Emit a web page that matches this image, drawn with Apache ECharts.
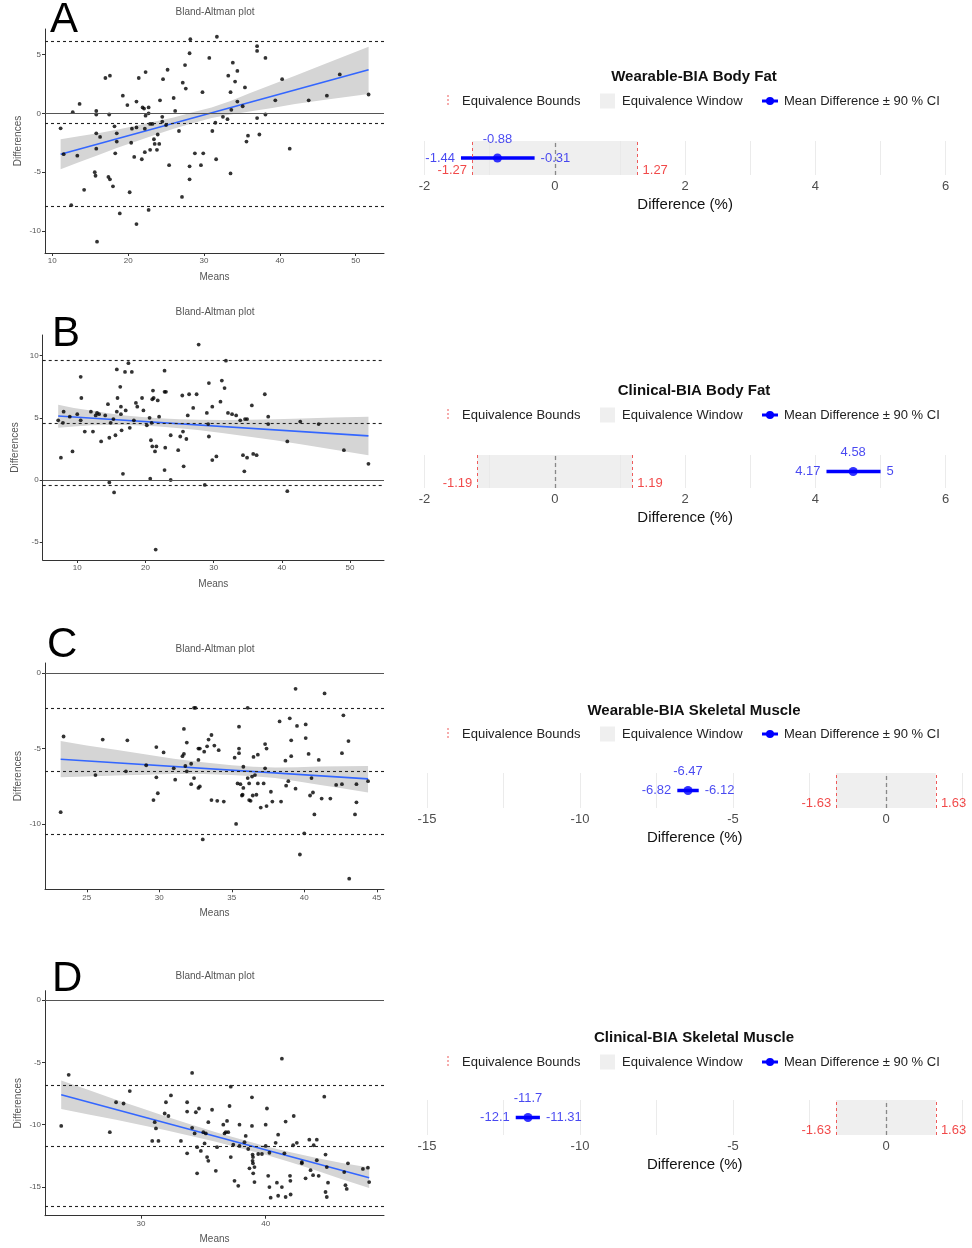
<!DOCTYPE html>
<html><head><meta charset="utf-8">
<script src="https://cdn.jsdelivr.net/npm/echarts@6/dist/echarts.min.js"></script>
<style>html,body{margin:0;padding:0;background:#fff}#c{width:972px;height:1248px}</style>
</head><body><div id="c"></div>
<script>
// ---------- Bland-Altman data (means, differences) ----------
const pointsA = [[11.1,-1.27],[11.5,-3.47],[12.7,0.1],[13.3,-3.6],[13.6,0.8],[12.5,-7.8],[14.2,-6.5],[15.8,0.2],[15.8,-0.1],[15.8,-1.7],[16.3,-2.0],[15.8,-3.0],[15.6,-5.0],[15.7,-5.3],[15.9,-10.9],[17.0,3.0],[17.6,3.2],[17.5,-0.1],[18.2,-1.1],[18.5,-1.7],[18.5,-2.4],[18.3,-3.4],[17.4,-5.4],[17.6,-5.6],[18.0,-6.2],[19.3,1.5],[19.9,0.7],[20.5,-1.3],[20.4,-2.5],[20.8,-3.7],[20.2,-6.7],[18.9,-8.5],[21.1,-9.4],[21.4,3.0],[21.1,1.0],[21.1,-1.2],[21.8,-3.9],[21.9,0.5],[22.3,3.5],[22.1,0.4],[22.7,0.5],[22.3,-0.2],[22.7,0.0],[22.2,-1.3],[22.9,-0.9],[22.2,-3.3],[22.9,-3.1],[22.7,-8.2],[23.2,-0.9],[23.4,-2.2],[23.5,-2.6],[23.8,-3.1],[23.9,-1.8],[24.1,-2.6],[24.2,1.1],[24.5,-0.3],[24.6,2.9],[24.5,-0.7],[25.0,-1.0],[25.2,3.7],[25.4,-4.4],[26.0,1.3],[26.2,0.2],[26.7,-1.5],[27.1,-7.1],[27.2,2.6],[27.5,4.1],[27.6,2.1],[28.1,-4.5],[28.1,-5.6],[28.1,5.1],[28.2,6.3],[28.8,-3.4],[29.6,-4.4],[29.9,-3.4],[29.8,1.8],[30.7,4.7],[31.1,-1.5],[31.5,-0.8],[31.6,-3.9],[31.7,6.5],[32.5,-0.3],[33.1,-0.5],[33.2,3.2],[33.5,-5.1],[33.5,1.8],[33.6,0.3],[33.8,4.3],[34.1,2.7],[34.4,3.6],[34.4,1.0],[35.1,0.6],[35.4,2.2],[35.6,-2.4],[35.8,-1.9],[37.0,5.7],[37.0,5.3],[37.0,-0.4],[37.3,-1.8],[38.1,4.7],[38.1,-0.1],[39.4,1.1],[40.3,2.9],[41.3,-3.0],[43.8,1.1],[46.2,1.5],[47.9,3.3],[51.7,1.6]];
const pointsB = [[7.2,4.8],[7.6,1.8],[8.0,5.5],[7.9,4.6],[8.9,5.1],[9.3,2.3],[10.0,5.3],[10.5,8.3],[10.6,6.6],[10.5,4.8],[11.1,3.9],[12.0,5.5],[12.3,3.9],[12.7,5.2],[12.9,5.4],[13.2,5.3],[13.5,3.1],[14.1,5.2],[14.5,6.1],[14.7,3.4],[14.9,4.6],[14.7,-0.2],[15.3,4.9],[15.4,-1.0],[15.6,3.6],[15.8,8.9],[15.9,6.6],[15.8,5.5],[16.3,7.5],[16.4,5.9],[16.4,5.3],[16.5,4.0],[16.7,0.5],[17.0,8.7],[17.1,5.6],[17.5,9.4],[17.7,4.2],[18.0,8.7],[18.3,4.8],[18.6,6.2],[18.8,5.9],[19.5,6.6],[19.7,5.6],[20.2,4.4],[20.6,5.0],[20.7,0.1],[20.8,3.2],[20.9,4.6],[21.0,2.7],[21.0,6.5],[21.1,7.2],[21.2,6.6],[21.4,2.3],[21.6,2.7],[21.5,-5.6],[21.8,6.4],[22.0,5.1],[22.8,8.8],[22.8,7.1],[23.0,7.1],[22.9,2.6],[22.8,0.8],[23.7,0.0],[23.7,3.6],[24.8,2.4],[25.1,3.5],[25.4,6.8],[25.5,3.9],[25.6,1.1],[26.0,3.3],[26.2,5.2],[26.4,6.9],[27.0,5.8],[27.5,6.9],[27.8,10.9],[28.7,-0.4],[29.0,5.4],[29.2,4.5],[29.3,3.5],[29.3,7.8],[29.8,5.9],[29.8,1.6],[30.4,1.9],[31.0,6.3],[31.2,8.0],[31.6,7.4],[31.8,9.6],[32.1,5.4],[32.7,5.3],[33.3,5.2],[33.9,4.8],[34.3,2.0],[34.5,0.7],[34.6,4.9],[34.9,4.9],[34.9,1.8],[35.6,6.0],[35.8,2.1],[36.3,2.0],[37.5,6.9],[38.0,5.1],[38.0,4.5],[40.8,3.1],[40.8,-0.9],[42.7,4.7],[45.4,4.5],[49.1,2.4],[52.7,1.3]];
const pointsC = [[23.2,-9.2],[23.4,-4.2],[25.6,-6.75],[26.1,-4.4],[27.7,-6.5],[27.8,-4.45],[29.1,-6.1],[29.6,-8.4],[29.8,-4.9],[29.8,-6.9],[29.9,-7.95],[30.3,-5.25],[31.0,-6.3],[31.1,-7.05],[31.6,-5.5],[31.7,-3.7],[31.7,-5.35],[31.8,-6.15],[31.9,-6.5],[31.9,-4.6],[32.2,-6.0],[32.2,-7.35],[32.4,-6.95],[32.4,-2.3],[32.5,-2.3],[32.7,-5.0],[32.7,-5.75],[32.7,-7.6],[32.8,-5.0],[32.8,-7.5],[33.0,-11.0],[33.1,-5.2],[33.3,-4.85],[33.4,-4.4],[33.6,-4.1],[33.6,-8.4],[33.8,-4.8],[34.0,-8.45],[34.1,-5.1],[34.45,-8.5],[35.2,-5.6],[35.3,-9.98],[35.4,-7.3],[35.5,-3.55],[35.5,-5.3],[35.5,-5.0],[35.6,-7.35],[35.7,-8.1],[35.8,-7.6],[35.8,-6.2],[35.75,-8.05],[36.1,-6.95],[36.1,-2.3],[36.2,-7.3],[36.2,-8.4],[36.3,-8.45],[36.4,-6.85],[36.45,-8.1],[36.5,-5.55],[36.6,-6.75],[36.7,-8.05],[36.8,-7.3],[36.8,-5.4],[37.0,-8.9],[37.2,-7.3],[37.3,-4.7],[37.3,-6.3],[37.4,-8.8],[37.4,-5.0],[37.7,-7.85],[37.8,-8.5],[38.3,-3.2],[38.4,-8.5],[38.7,-5.8],[38.75,-7.45],[38.9,-7.15],[39.0,-3.0],[39.1,-5.5],[39.1,-4.45],[39.4,-1.05],[39.4,-7.65],[39.5,-3.5],[39.7,-12.0],[40.0,-10.6],[40.1,-4.3],[40.1,-3.4],[40.3,-5.35],[40.4,-8.1],[40.5,-6.95],[40.6,-7.9],[40.7,-9.35],[41.0,-5.75],[41.2,-8.3],[41.4,-1.35],[41.8,-8.3],[42.2,-7.4],[42.6,-7.35],[42.6,-5.3],[42.7,-2.8],[43.05,-4.5],[43.1,-13.6],[43.5,-9.35],[43.6,-8.55],[43.6,-7.35],[44.4,-7.15]];
const pointsD = [[23.6,-10.1],[24.2,-6.0],[27.5,-10.6],[28.0,-8.2],[28.6,-8.3],[29.1,-7.3],[30.9,-11.3],[31.1,-9.8],[31.2,-10.3],[31.4,-11.3],[31.9,-9.1],[32.0,-8.2],[32.2,-9.3],[32.4,-7.65],[33.2,-11.3],[33.7,-8.2],[33.7,-8.95],[33.7,-12.3],[34.1,-5.85],[34.1,-10.25],[34.3,-10.7],[34.4,-9.0],[34.5,-11.8],[34.5,-13.9],[34.65,-8.7],[34.8,-12.1],[35.0,-10.6],[35.1,-11.5],[35.2,-10.7],[35.3,-12.6],[35.4,-12.9],[35.4,-9.8],[35.7,-8.8],[36.0,-13.7],[36.1,-11.8],[36.6,-10.0],[36.7,-10.7],[36.8,-10.6],[36.9,-9.7],[37.0,-10.6],[37.1,-8.5],[37.2,-6.95],[37.2,-12.6],[37.4,-11.6],[37.5,-14.5],[37.8,-14.9],[37.9,-11.7],[37.9,-10.0],[38.3,-11.4],[38.4,-10.9],[38.6,-11.95],[38.7,-13.5],[38.9,-10.1],[38.9,-7.8],[38.95,-12.4],[38.98,-12.6],[38.95,-12.9],[38.98,-13.1],[39.1,-13.4],[39.0,-13.9],[39.1,-14.6],[39.4,-12.35],[39.7,-12.35],[40.0,-10.0],[40.0,-11.7],[40.1,-8.7],[40.2,-14.1],[40.3,-12.25],[40.3,-15.0],[40.4,-15.85],[40.8,-11.45],[40.9,-14.65],[41.0,-10.8],[41.0,-15.7],[41.3,-4.7],[41.3,-15.0],[41.5,-12.3],[41.6,-9.75],[41.6,-15.8],[41.95,-14.1],[41.98,-14.5],[42.0,-15.6],[42.2,-11.65],[42.25,-9.3],[42.5,-11.45],[42.9,-13.0],[42.9,-13.1],[43.2,-14.3],[43.5,-11.2],[43.6,-13.65],[43.8,-14.05],[43.85,-11.65],[44.1,-11.2],[44.1,-12.85],[44.25,-14.1],[44.7,-7.75],[44.8,-12.4],[44.9,-13.4],[44.8,-15.4],[44.9,-15.8],[45.0,-14.65],[46.4,-14.85],[46.5,-15.15],[46.6,-13.1],[46.3,-13.8],[47.8,-13.55],[48.2,-13.45],[48.3,-14.6]];

// upper limit of agreement, bias, lower limit of agreement
const limitsA = [6.13, -0.88, -7.89];
const limitsB = [9.6, 4.58, -0.45];
const limitsC = [-2.3, -6.47, -10.65];
const limitsD = [-6.85, -11.7, -16.52];

// regression line end points
const regA = [[11.1,-3.47],[51.7,3.7]];
const regB = [[7.2,5.15],[52.7,3.55]];
const regC = [[23.2,-5.7],[44.4,-7.0]];
const regD = [[23.6,-7.6],[48.3,-14.25]];

// confidence band [x, lower, upper]
const bandA = [[11.1,-4.75,-2.2],[13.5,-4.15,-1.95],[16,-3.55,-1.7],[18.5,-2.95,-1.4],[21,-2.4,-1.05],[23.5,-1.85,-0.7],[26,-1.3,-0.35],[28.5,-0.85,0.1],[31,-0.4,0.5],[33.5,-0.1,1.05],[36,0.15,1.7],[39,0.45,2.45],[42,0.8,3.2],[46,1.15,4.2],[51.7,1.65,5.65]];
const bandB = [[7.2,4.2,6.05],[9.5,4.3,5.8],[12,4.4,5.6],[14.5,4.43,5.38],[17,4.42,5.2],[19.5,4.38,5.06],[22,4.3,4.96],[25,4.17,4.88],[28,4.0,4.84],[31.5,3.77,4.82],[35,3.5,4.84],[39,3.2,4.88],[43,2.85,4.95],[47.5,2.45,5.02],[52.7,2.0,5.1]];
const bandC = [[23.2,-6.9,-4.5],[25,-6.84,-4.8],[27,-6.78,-5.08],[29,-6.72,-5.38],[31,-6.67,-5.67],[33,-6.68,-5.9],[35,-6.74,-6.1],[36.5,-6.83,-6.2],[38,-6.95,-6.25],[39.5,-7.15,-6.23],[41,-7.39,-6.19],[42.7,-7.63,-6.17],[44.4,-7.9,-6.15]];
const bandD = [[23.6,-8.75,-6.45],[25.8,-9.18,-7.22],[28,-9.6,-8.0],[30,-10.02,-8.67],[32,-10.44,-9.34],[34,-10.9,-9.98],[36,-11.36,-10.6],[38,-11.88,-11.17],[40,-12.42,-11.72],[42,-13.02,-12.2],[44,-13.66,-12.66],[46,-14.33,-13.05],[48.3,-15.07,-13.43]];

// tick labels
const xTicksA = [10,20,30,40,50], yTicksA = [-10,-5,0,5];
const xTicksB = [10,20,30,40,50], yTicksB = [-5,0,5,10];
const xTicksC = [25,30,35,40,45], yTicksC = [-10,-5,0];
const xTicksD = [30,40], yTicksD = [-15,-10,-5,0];

// ---------- Equivalence tests ----------
const eqTitles = ['Wearable-BIA Body Fat','Clinical-BIA Body Fat','Wearable-BIA Skeletal Muscle','Clinical-BIA Skeletal Muscle'];
const eqBounds = [1.27, 1.19, 1.63, 1.63];
const eqLower  = [-1.44, 4.17, -6.82, -12.1];
const eqMean   = [-0.88, 4.58, -6.47, -11.7];
const eqUpper  = [-0.31, 5, -6.12, -11.31];

const FONT = "'Liberation Sans', Arial, Helvetica, sans-serif";
const grids = [], xAxes = [], yAxes = [], series = [], graphics = [];

function addBA(p) {
  const i = grids.length;
  grids.push({left: p.geom[0], top: p.geom[1], width: p.geom[2], height: p.geom[3]});
  xAxes.push({gridIndex: i, type: 'value', min: p.xr[0], max: p.xr[1],
    name: 'Means', nameLocation: 'middle', nameGap: 19,
    nameTextStyle: {fontSize: 10, color: '#555', fontFamily: FONT},
    axisLine: {show: true, onZero: false, lineStyle: {color: '#333', width: 1}},
    axisTick: {show: true, customValues: p.xt, length: 3, lineStyle: {color: '#333'}},
    axisLabel: {customValues: p.xt, fontSize: 8, color: '#555', margin: 4, fontFamily: FONT},
    splitLine: {show: false}});
  yAxes.push({gridIndex: i, type: 'value', min: p.yr[0], max: p.yr[1],
    name: 'Differences', nameLocation: 'middle', nameGap: 22,
    nameTextStyle: {fontSize: 10, color: '#555', fontFamily: FONT},
    axisLine: {show: true, onZero: false, lineStyle: {color: '#333', width: 1}},
    axisTick: {show: true, customValues: p.yt, length: 3, lineStyle: {color: '#333'}},
    axisLabel: {customValues: p.yt, fontSize: 8, color: '#555', margin: 4, fontFamily: FONT},
    splitLine: {show: false}});
  const band = p.band;
  series.push({type: 'custom', xAxisIndex: i, yAxisIndex: i, silent: true, z: 1,
    data: [[band[0][0], band[0][1]]], encode: {x: 0, y: 1},
    renderItem: function (params, api) {
      const pts = band.map(b => api.coord([b[0], b[2]]))
        .concat(band.slice().reverse().map(b => api.coord([b[0], b[1]])));
      return {type: 'polygon', shape: {points: pts}, style: {fill: '#d5d5d5'}};
    }});
  series.push({type: 'line', xAxisIndex: i, yAxisIndex: i, z: 2, silent: true,
    data: p.reg, symbol: 'none', lineStyle: {color: '#3366ff', width: 1.6},
    markLine: {silent: true, symbol: ['none', 'none'], label: {show: false},
      lineStyle: {type: [3, 3], color: '#222', width: 1.1},
      data: [{yAxis: 0, lineStyle: {type: 'solid', color: '#555', width: 1.2}}]
        .concat(p.lims.map(v => ({yAxis: v})))}});
  series.push({type: 'scatter', xAxisIndex: i, yAxisIndex: i, z: 3, silent: true,
    data: p.pts, symbolSize: 3.8, itemStyle: {color: '#000'}});
  graphics.push({type: 'text', x: p.letter[1], y: p.letter[2],
    style: {text: p.letter[0], font: '42px ' + FONT, fill: '#000', verticalAlign: 'middle'}});
  graphics.push({type: 'text', x: 215, y: p.titleY,
    style: {text: 'Bland-Altman plot', font: '10px ' + FONT, fill: '#555', align: 'center', verticalAlign: 'middle'}});
}

function addEq(k, p) {
  const i = grids.length;
  const b = eqBounds[k], lo = eqLower[k], mu = eqMean[k], hi = eqUpper[k];
  grids.push({left: p.geom[0], top: p.geom[1], width: p.geom[2], height: p.geom[3]});
  xAxes.push({gridIndex: i, type: 'value', min: p.xr[0], max: p.xr[1], interval: p.interval,
    name: 'Difference (%)', nameLocation: 'middle', nameGap: 22,
    nameTextStyle: {fontSize: 15, color: '#111', fontFamily: FONT},
    axisLine: {show: false}, axisTick: {show: false},
    axisLabel: {fontSize: 13, color: '#4d4d4d', margin: 5, fontFamily: FONT,
      formatter: v => (Math.abs(v % p.every) < 1e-9 ? String(v) : '')},
    splitLine: {show: true, lineStyle: {color: '#ebebeb', width: 1}}});
  yAxes.push({gridIndex: i, type: 'value', min: 0, max: 2, show: false});
  const red = '#ee5b5b';
  series.push({type: 'line', xAxisIndex: i, yAxisIndex: i, z: 1, silent: true,
    data: [[-b, 1], [b, 1]], symbol: 'none', lineStyle: {opacity: 0},
    markArea: {silent: true, itemStyle: {color: 'rgba(232,232,232,0.7)'}, data: [[{xAxis: -b}, {xAxis: b}]]},
    markLine: {silent: true, symbol: ['none', 'none'], label: {show: false},
      data: [
        {xAxis: -b, lineStyle: {type: [3, 3], color: red, width: 1}},
        {xAxis: b, lineStyle: {type: [3, 3], color: red, width: 1}},
        {xAxis: 0, lineStyle: {type: [4, 3], color: '#888', width: 1.3}}]}});
  series.push({type: 'line', xAxisIndex: i, yAxisIndex: i, z: 4, silent: true,
    data: [[lo, 1], [hi, 1]], symbol: 'none', lineStyle: {color: '#0000ff', width: 3.5}});
  const lbl = {fontSize: 13, fontFamily: FONT};
  series.push({type: 'scatter', xAxisIndex: i, yAxisIndex: i, z: 5, silent: true,
    data: [[mu, 1]], symbolSize: 9, itemStyle: {color: '#0000ff'},
    label: Object.assign({show: true, position: 'top', distance: 8, color: '#1a1aee',
      formatter: () => String(mu)}, lbl)});
  series.push({type: 'scatter', xAxisIndex: i, yAxisIndex: i, z: 6, silent: true,
    symbolSize: 0, itemStyle: {color: 'rgba(0,0,0,0)'},
    data: [
      {value: [lo, 1], label: Object.assign({show: true, position: 'left', distance: 6, color: '#1a1aee', formatter: String(lo)}, lbl)},
      {value: [hi, 1], label: Object.assign({show: true, position: 'right', distance: 6, color: '#1a1aee', formatter: String(hi)}, lbl)},
      {value: [-b, 0.28], label: Object.assign({show: true, position: 'left', distance: 5, color: '#ee1c1c', formatter: String(-b)}, lbl)},
      {value: [b, 0.28], label: Object.assign({show: true, position: 'right', distance: 5, color: '#ee1c1c', formatter: String(b)}, lbl)}]});
  graphics.push({type: 'text', x: 694, y: p.titleY,
    style: {text: eqTitles[k], font: 'bold 15px ' + FONT, fill: '#111', align: 'center', verticalAlign: 'middle'}});
  const y = p.legendY;
  graphics.push({type: 'line', shape: {x1: 448, y1: y - 6, x2: 448, y2: y + 6}, style: {stroke: red, lineWidth: 1, lineDash: [2, 2]}});
  graphics.push({type: 'text', x: 462, y: y, style: {text: 'Equivalence Bounds', font: '13px ' + FONT, fill: '#222', verticalAlign: 'middle'}});
  graphics.push({type: 'rect', shape: {x: 600, y: y - 7.5, width: 15, height: 15}, style: {fill: '#efefef'}});
  graphics.push({type: 'text', x: 622, y: y, style: {text: 'Equivalence Window', font: '13px ' + FONT, fill: '#222', verticalAlign: 'middle'}});
  graphics.push({type: 'line', shape: {x1: 762, y1: y, x2: 778, y2: y}, style: {stroke: '#0000ff', lineWidth: 3}});
  graphics.push({type: 'circle', shape: {cx: 770, cy: y, r: 4}, style: {fill: '#0000ff'}});
  graphics.push({type: 'text', x: 784, y: y, style: {text: 'Mean Difference \u00b1 90 % CI', font: '13px ' + FONT, fill: '#222', verticalAlign: 'middle'}});
}

addBA({geom: [45, 29, 339, 224], xr: [9.04, 53.73], yr: [-11.86, 7.16], xt: xTicksA, yt: yTicksA,
  pts: pointsA, lims: limitsA, reg: regA, band: bandA, letter: ['A', 50, 20], titleY: 12});
addBA({geom: [42.7, 335, 341.3, 225], xr: [4.93, 54.98], yr: [-6.44, 11.67], xt: xTicksB, yt: yTicksB,
  pts: pointsB, lims: limitsB, reg: regB, band: bandB, letter: ['B', 52, 334], titleY: 312});
addBA({geom: [45, 663, 339, 226.3], xr: [22.12, 45.5], yr: [-14.3, 0.66], xt: xTicksC, yt: yTicksC,
  pts: pointsC, lims: limitsC, reg: regC, band: bandC, letter: ['C', 47, 645], titleY: 649});
addBA({geom: [45, 990.7, 339, 225], xr: [22.3, 49.49], yr: [-17.3, 0.75], xt: xTicksD, yt: yTicksD,
  pts: pointsD, lims: limitsD, reg: regD, band: bandD, letter: ['D', 52, 979], titleY: 976});

addEq(0, {geom: [424.5, 141, 521.2, 34], xr: [-2, 6], interval: 1, every: 2, titleY: 77, legendY: 101});
addEq(1, {geom: [424.5, 455, 521.2, 33], xr: [-2, 6], interval: 1, every: 2, titleY: 391, legendY: 415});
addEq(2, {geom: [427, 773, 535.5, 35], xr: [-15, 2.5], interval: 2.5, every: 5, titleY: 711, legendY: 734});
addEq(3, {geom: [427, 1100, 535.5, 35], xr: [-15, 2.5], interval: 2.5, every: 5, titleY: 1038, legendY: 1062});

const chart = echarts.init(document.getElementById('c'), null, {renderer: 'canvas'});
chart.setOption({
  animation: false,
  backgroundColor: '#fff',
  textStyle: {fontFamily: FONT},
  grid: grids, xAxis: xAxes, yAxis: yAxes, series: series,
  graphic: {elements: graphics}
});
</script></body></html>
